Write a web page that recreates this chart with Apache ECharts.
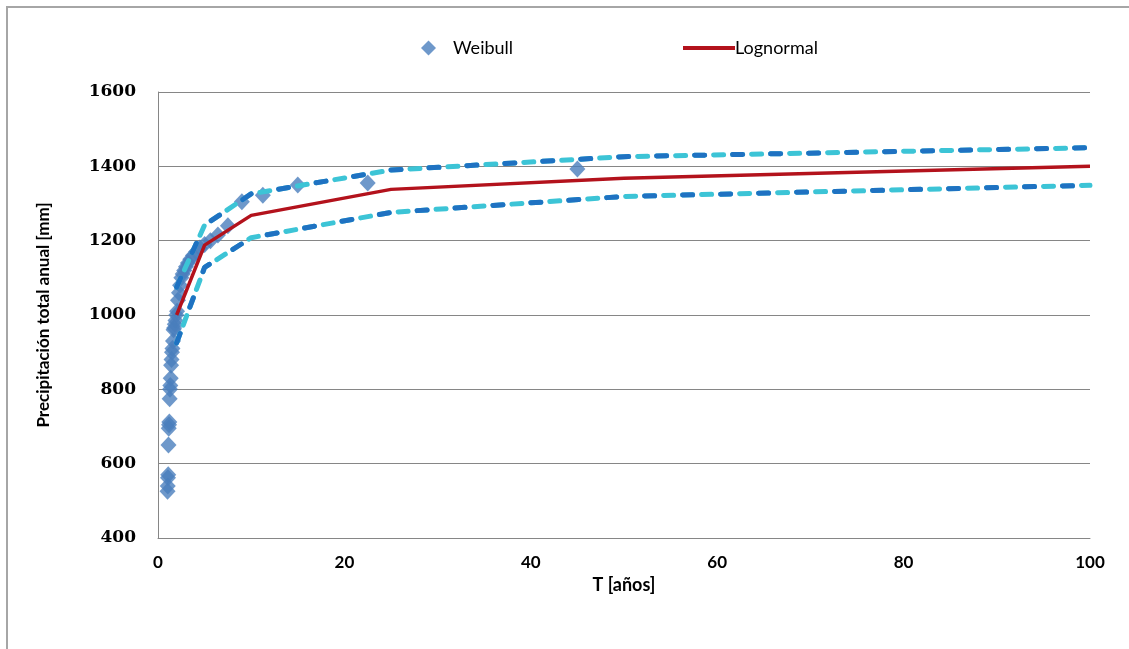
<!DOCTYPE html>
<html>
<head>
<meta charset="utf-8">
<script src="https://cdn.jsdelivr.net/npm/echarts@6/dist/echarts.min.js"></script>
<style>
    html, body { margin: 0; padding: 0; background: #fff; overflow: hidden; }
    #frame { position: absolute; left: 6px; top: 6px; width: 1140px; height: 660px; border: 2px solid #a6a6a6; }
    #chart { position: absolute; left: 0; top: 0; width: 1129px; height: 649px; }
</style>
</head>
<body>
<div id="frame"></div>
<div id="chart"></div>
<script>
// Weibull plotting positions, T = (n+1)/m with n = 44
const weibullT = [];
for (let m = 1; m <= 44; m++) weibullT.push(+(45 / m).toFixed(3));
const weibullP = [
    1393, 1355, 1350, 1322, 1305, 1240, 1215, 1200, 1190, 1180,
    1170, 1160, 1150, 1140, 1130, 1120, 1110, 1100, 1080, 1060,
    1040, 1010, 1000, 985, 975, 965, 960, 930, 910, 900,
    880, 865, 830, 810, 800, 775, 712, 705, 695, 650,
    570, 562, 540, 526
];

const lineT = [2, 5, 10, 25, 50, 100];
const lognormal = [1000, 1188, 1268, 1338, 1368, 1400];
const upperBand = [1075, 1242, 1326, 1390, 1426, 1450];
const lowerBand = [925, 1128, 1208, 1276, 1319, 1349];

const xTicks = [0, 20, 40, 60, 80, 100];
const yTicks = [400, 600, 800, 1000, 1200, 1400, 1600];

function pairs (xs, ys) {
    return xs.map((x, i) => [x, ys[i]]);
}

// cyan dashes, every other one covered by a darker blue dash
function dashed (name, color, values, pattern, z) {
    return {
        name: name,
        type: 'line',
        data: pairs(lineT, values),
        showSymbol: false,
        silent: true,
        lineStyle: { color: color, width: 5, type: pattern, cap: 'round' },
        z: z
    };
}

const chart = echarts.init(document.getElementById('chart'));
chart.setOption({
    animation: false,
    backgroundColor: 'transparent',
    legend: [
        {
            data: [{ name: 'Weibull', icon: 'diamond' }],
            left: 416,
            top: 34,
            itemWidth: 15,
            itemHeight: 15,
            textStyle: { fontFamily: 'Lato', fontSize: 18, color: '#000', padding: [0, 0, 0, 12] }
        },
        {
            data: [{ name: 'Lognormal', icon: 'rect' }],
            left: 678,
            top: 34,
            itemWidth: 52,
            itemHeight: 4,
            textStyle: { fontFamily: 'Lato', fontSize: 18, color: '#000', padding: [0, 0, 0, -5] }
        }
    ],
    grid: { left: 158, right: 39, top: 92, bottom: 111 },
    xAxis: {
        type: 'value',
        min: xTicks[0],
        max: xTicks[xTicks.length - 1],
        interval: 20,
        name: 'T [años]',
        nameLocation: 'middle',
        nameGap: 37,
        nameTextStyle: { fontFamily: 'Lato', fontWeight: 'bold', fontSize: 18, color: '#000' },
        axisLine: { lineStyle: { color: '#868686', width: 1 } },
        axisTick: { show: false },
        splitLine: { show: false },
        axisLabel: {
            margin: 16,
            fontFamily: 'Lato',
            fontWeight: 'bold',
            fontSize: 17,
            color: '#000'
        }
    },
    yAxis: {
        type: 'value',
        min: yTicks[0],
        max: yTicks[yTicks.length - 1],
        interval: 200,
        name: 'Precipitación total anual [mm]',
        nameLocation: 'middle',
        nameGap: 106,
        nameTextStyle: { fontFamily: 'Lato', fontWeight: 'bold', fontSize: 17, color: '#000' },
        axisLine: { show: true, lineStyle: { color: '#868686', width: 1 } },
        axisTick: { show: false },
        splitLine: { lineStyle: { color: '#868686', width: 1 } },
        axisLabel: {
            margin: 22,
            fontFamily: 'DejaVu Serif',
            fontWeight: 'bold',
            fontSize: 17,
            color: '#000',
            formatter: v => String(v)
        }
    },
    series: [
        dashed('upperCyan', '#3cc4d6', upperBand, [10, 9], 3),
        dashed('upperBlue', '#1f72c2', upperBand, [10, 28], 4),
        dashed('lowerCyan', '#3cc4d6', lowerBand, [10, 9], 3),
        dashed('lowerBlue', '#1f72c2', lowerBand, [10, 28], 4),
        {
            name: 'Weibull',
            type: 'scatter',
            data: pairs(weibullT, weibullP),
            symbol: 'diamond',
            symbolSize: [16, 17],
            itemStyle: { color: '#4a7ebd' },
            z: 2
        },
        {
            name: 'Lognormal',
            type: 'line',
            data: pairs(lineT, lognormal),
            showSymbol: false,
            lineStyle: { color: '#b3121c', width: 3.5 },
            itemStyle: { color: '#b3121c' },
            z: 5
        }
    ]
});
</script>
</body>
</html>
